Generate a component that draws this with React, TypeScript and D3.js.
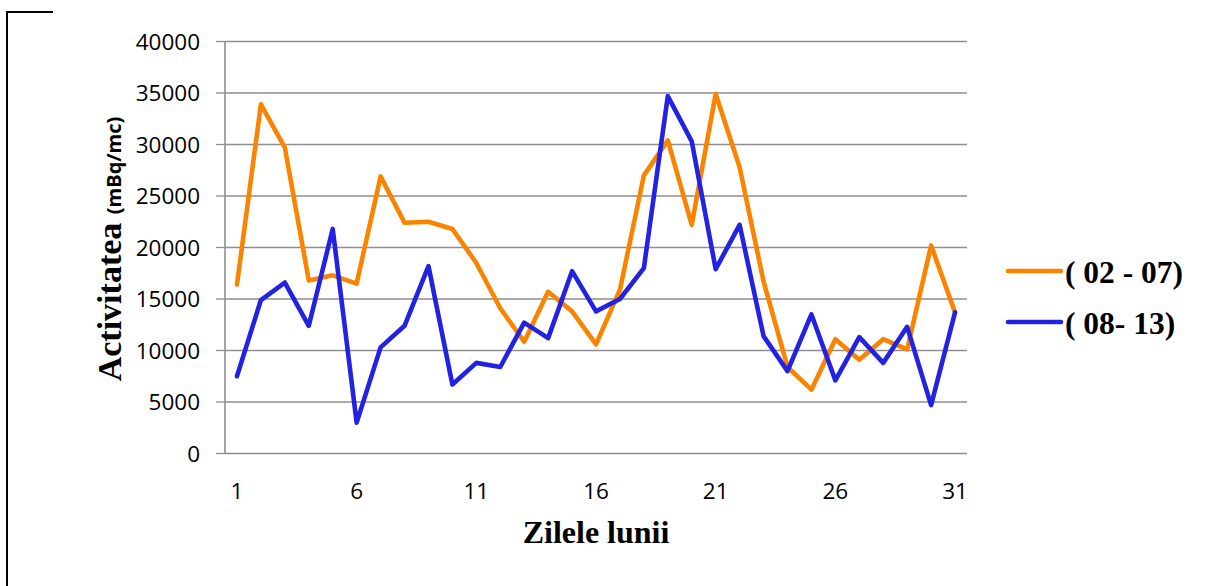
import React from "react";
import * as d3 from "d3";

const days: number[] = d3.range(1, 32);
const seriesA: number[] = [16400, 33900, 29700, 16800, 17300, 16500, 26900, 22400, 22500, 21800, 18500, 14100, 10850, 15700, 13800, 10600, 15900, 27000, 30400, 22200, 34900, 27800, 16700, 8400, 6200, 11100, 9100, 11100, 10100, 20200, 13700];
const seriesB: number[] = [7500, 14900, 16600, 12400, 21800, 3000, 10300, 12400, 18200, 6700, 8800, 8400, 12700, 11200, 17700, 13800, 15000, 18000, 34700, 30300, 17900, 22200, 11400, 8000, 13500, 7100, 11300, 8800, 12300, 4700, 13700];
const yTicks: number[] = [0, 5000, 10000, 15000, 20000, 25000, 30000, 35000, 40000];
const xTickLabels: number[] = [1, 6, 11, 16, 21, 26, 31];
const seriesNames: string[] = ["( 02 - 07)", "( 08- 13)"];
const seriesColors: string[] = ["#FA8400", "#2222E2"];

export default function App() {
  const W = 1219, H = 586;
  const left = 225, right = 967, top = 41.5, bottom = 453.5;
  const x = d3.scaleBand<number>().domain(days).range([left, right]);
  const cx = (d: number) => (x(d) as number) + x.bandwidth() / 2;
  const y = d3.scaleLinear().domain([0, 40000]).range([bottom, top]);
  const line = d3.line<number>().x((_, i) => cx(days[i])).y((v) => y(v));
  const all = [seriesA, seriesB];
  const serif = "'Liberation Serif', 'Times New Roman', serif";
  const sans = "'Open Sans', sans-serif";
  return (
    <svg width={W} height={H} style={{ position: "absolute", left: 0, top: 0, background: "#fff" }}>
      <path d="M53,12 H7 V586" fill="none" stroke="#000" strokeWidth={2} />
      {yTicks.map((t) => (
        <g key={t}>
          {t > 0 && <line x1={left} x2={right} y1={y(t)} y2={y(t)} stroke="#8e8e8e" strokeWidth={1.3} />}
          <line x1={216} x2={left} y1={y(t)} y2={y(t)} stroke="#8e8e8e" strokeWidth={1.3} />
          <text x={200} y={y(t)} dy="0.36em" textAnchor="end" fontFamily={sans} fontSize={22.5} fill="#000">{t}</text>
        </g>
      ))}
      <line x1={left} x2={left} y1={top} y2={bottom} stroke="#8e8e8e" strokeWidth={1.6} />
      <line x1={left} x2={right} y1={bottom} y2={bottom} stroke="#8e8e8e" strokeWidth={1.6} />
      {xTickLabels.map((d) => (
        <text key={d} x={cx(d)} y={499} textAnchor="middle" fontFamily={sans} fontSize={22.5} fill="#000">{d}</text>
      ))}
      {all.map((s, i) => (
        <path key={i} d={line(s) || ""} fill="none" stroke={seriesColors[i]} strokeWidth={4.6} strokeLinejoin="round" strokeLinecap="round" />
      ))}
      <text x={596} y={543} textAnchor="middle" fontFamily={serif} fontWeight="bold" fontSize={32} fill="#000">Zilele lunii</text>
      <text transform="translate(121,249) rotate(-90)" textAnchor="middle" fill="#000">
        <tspan fontFamily={serif} fontWeight="bold" fontSize={34}>Activitatea </tspan>
        <tspan fontFamily={sans} fontWeight="bold" fontSize={20}>(mBq/mc)</tspan>
      </text>
      {seriesNames.map((n, i) => (
        <g key={n}>
          <line x1={1008} x2={1061} y1={271 + i * 51} y2={271 + i * 51} stroke={seriesColors[i]} strokeWidth={4.6} strokeLinecap="round" />
          <text x={1065} y={283 + i * 51} fontFamily={serif} fontWeight="bold" fontSize={31.5} fill="#000">{n}</text>
        </g>
      ))}
    </svg>
  );
}
